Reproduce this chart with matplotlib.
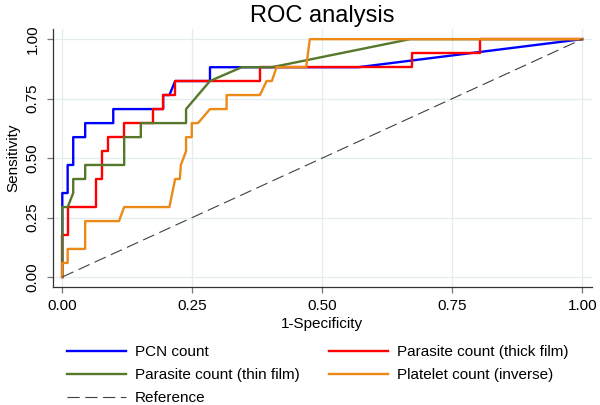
import numpy as np
import matplotlib
matplotlib.use('Agg')
import matplotlib.pyplot as plt

plt.rcParams['font.family'] = ['Liberation Sans', 'DejaVu Sans']

# ROC points (1-specificity, sensitivity)
pcn_fpr = [0, 0, 0.0103, 0.0103, 0.021, 0.021, 0.044, 0.044, 0.098, 0.098, 0.194, 0.194,
           0.206, 0.217, 0.284, 0.284, 0.569, 1.0]
pcn_tpr = [0, 0.353, 0.353, 0.471, 0.471, 0.588, 0.588, 0.647, 0.647, 0.706, 0.706, 0.765,
           0.765, 0.824, 0.824, 0.882, 0.882, 1.0]

thick_fpr = [0, 0, 0.0103, 0.0103, 0.064, 0.064, 0.076, 0.076, 0.087, 0.087, 0.119, 0.119,
             0.174, 0.174, 0.194, 0.194, 0.217, 0.217, 0.380, 0.380, 0.673, 0.673, 0.803, 0.803, 1.0]
thick_tpr = [0, 0.176, 0.176, 0.294, 0.294, 0.412, 0.412, 0.529, 0.529, 0.588, 0.588, 0.647,
             0.647, 0.706, 0.706, 0.765, 0.765, 0.824, 0.824, 0.882, 0.882, 0.941, 0.941, 1.0, 1.0]

thin_fpr = [0, 0, 0.0103, 0.021, 0.021, 0.044, 0.044, 0.119, 0.119, 0.151, 0.151, 0.238,
            0.238, 0.284, 0.345, 0.403, 0.669, 1.0]
thin_tpr = [0, 0.294, 0.294, 0.353, 0.412, 0.412, 0.471, 0.471, 0.588, 0.588, 0.647, 0.647,
            0.706, 0.824, 0.882, 0.882, 1.0, 1.0]

plt_fpr = [0, 0, 0.0103, 0.0103, 0.044, 0.044, 0.109, 0.119, 0.206, 0.217, 0.226, 0.228,
           0.238, 0.238, 0.249, 0.249, 0.261, 0.284, 0.316, 0.316, 0.380, 0.393, 0.403, 0.412,
           0.469, 0.476, 1.0]
plt_tpr = [0, 0.059, 0.059, 0.118, 0.118, 0.235, 0.235, 0.294, 0.294, 0.412, 0.412, 0.471,
           0.529, 0.588, 0.588, 0.647, 0.647, 0.706, 0.706, 0.765, 0.765, 0.824, 0.824, 0.882,
           0.882, 1.0, 1.0]

ref = [0, 1]
ticks = [0, 0.25, 0.5, 0.75, 1.0]
tick_labels = ['0.00', '0.25', '0.50', '0.75', '1.00']

fig = plt.figure(figsize=(6, 4.05), dpi=100)
ax = fig.add_axes([0.0878, 0.292, 0.8989, 0.636])

lw = 1.7
l1, = ax.plot(pcn_fpr, pcn_tpr, color='#0000ff', lw=lw, label='PCN count')
l2, = ax.plot(thick_fpr, thick_tpr, color='#ff0000', lw=lw, label='Parasite count (thick film)')
l3, = ax.plot(thin_fpr, thin_tpr, color='#56782b', lw=lw, label='Parasite count (thin film)')
l4, = ax.plot(plt_fpr, plt_tpr, color='#eb8a17', lw=lw, label='Platelet count (inverse)')
l5, = ax.plot(ref, ref, color='#404040', lw=0.8, linestyle=(0, (11, 5)), label='Reference')

ax.set_xlim(-0.0185, 1.0187)
ax.set_ylim(-0.041, 1.042)
ax.set_xticks(ticks)
ax.set_xticklabels(tick_labels)
ax.set_yticks(ticks)
ax.set_yticklabels(tick_labels, rotation=90, va='center')
ax.grid(True, color='#e3ecef', lw=0.9)
ax.set_axisbelow(True)
for s in ['top', 'right']:
    ax.spines[s].set_visible(False)
for s in ['left', 'bottom']:
    ax.spines[s].set_color('#333333')
    ax.spines[s].set_linewidth(0.9)
ax.tick_params(axis='both', length=4.5, width=0.9, color='#777777', labelsize=11, pad=4)
ax.tick_params(axis='y', pad=5)

ax.set_xlabel('1-Specificity', fontsize=11, labelpad=3)
ax.set_ylabel('Sensitivity', fontsize=11, labelpad=4)
ax.set_title('ROC analysis', fontsize=17, pad=5)

fig.legend(handles=[l1, l3, l5, l2, l4], ncol=2, loc='upper left',
           bbox_to_anchor=(66.5 / 600, 1 - 345 / 405), frameon=False, fontsize=11,
           handlelength=3.9, handletextpad=0.58, columnspacing=1.9,
           labelspacing=0.6, borderpad=0, borderaxespad=0)

fig.savefig('out.png', dpi=100)
